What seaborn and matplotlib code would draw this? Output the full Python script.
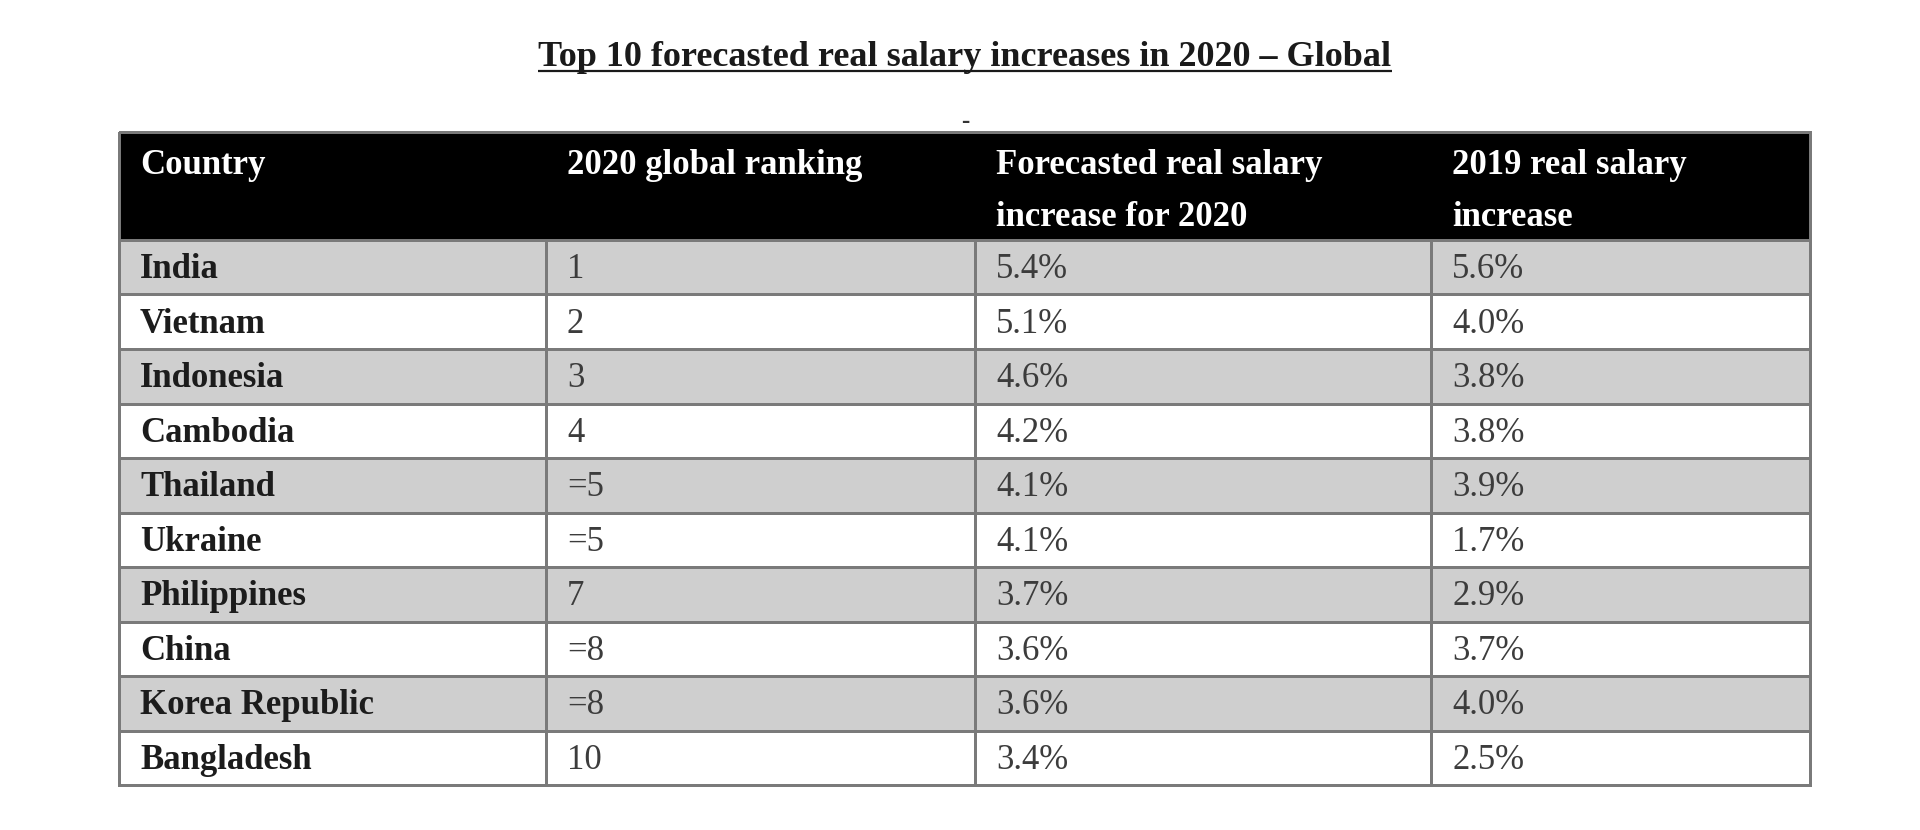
import numpy as np
import matplotlib
matplotlib.use("Agg")
import matplotlib.pyplot as plt
from matplotlib.colors import ListedColormap
import seaborn as sns

# ---- data ----
title = "Top 10 forecasted real salary increases in 2020 \u2013 Global"
headers = ["Country", "2020 global ranking",
           "Forecasted real salary\nincrease for 2020", "2019 real salary\nincrease"]
countries = ["India", "Vietnam", "Indonesia", "Cambodia", "Thailand", "Ukraine",
             "Philippines", "China", "Korea Republic", "Bangladesh"]
rankings = ["1", "2", "3", "4", "=5", "=5", "7", "=8", "=8", "10"]
forecast_2020 = [5.4, 5.1, 4.6, 4.2, 4.1, 4.1, 3.7, 3.6, 3.6, 3.4]
real_2019 = [5.6, 4.0, 3.8, 3.8, 3.9, 1.7, 2.9, 3.7, 4.0, 2.5]

# ---- style ----
sns.set_theme(style="white")
plt.rcParams["font.family"] = ["Liberation Serif", "DejaVu Serif"]

W, H = 1920, 830
fig = plt.figure(figsize=(W / 100, H / 100), dpi=100)
ax = fig.add_axes([0, 0, 1, 1])
ax.set_xlim(0, W)
ax.set_ylim(H, 0)
ax.set_axis_off()

col_edges = np.array([119, 546, 975, 1431, 1810])
header_top, header_bot, table_bot = 132, 240, 785
n = len(countries)
row_edges = np.linspace(header_bot, table_bot, n + 1)

grid_col = "#7a7a7a"
stripe = ListedColormap(["#ffffff", "#cfcfcf"])

# body cells (alternating grey / white stripes)
C = np.array([[(i + 1) % 2] * (len(col_edges) - 1) for i in range(n)])
ax.pcolormesh(col_edges, row_edges, C, cmap=stripe, vmin=0, vmax=1,
              edgecolors=grid_col, linewidth=2.0)

# header band
ax.pcolormesh([col_edges[0], col_edges[-1]], [header_top, header_bot],
              np.array([[0]]), cmap=ListedColormap(["#000000"]),
              edgecolors=grid_col, linewidth=2.0)

fs = 25
pad = 21

# header texts (one text per line)
for j, h in enumerate(headers):
    for k, line in enumerate(h.split("\n")):
        ax.text(col_edges[j] + pad, 174 + 52 * k, line, color="white",
                fontsize=fs, fontweight="bold", va="baseline", ha="left")

# body texts
for i in range(n):
    yb = row_edges[i] + 38
    ax.text(col_edges[0] + pad, yb, countries[i], color="#1c1c1c",
            fontsize=fs, fontweight="bold", va="baseline")
    ax.text(col_edges[1] + pad, yb, rankings[i], color="#3c3c3c",
            fontsize=fs, va="baseline")
    ax.text(col_edges[2] + pad, yb, f"{forecast_2020[i]:.1f}%", color="#3c3c3c",
            fontsize=fs, va="baseline")
    ax.text(col_edges[3] + pad, yb, f"{real_2019[i]:.1f}%", color="#3c3c3c",
            fontsize=fs, va="baseline")

# title with underline
t = ax.text(965, 66, title, color="#1a1a1a", fontsize=26, fontweight="bold",
            ha="center", va="baseline")
fig.canvas.draw()
bb = t.get_window_extent(renderer=fig.canvas.get_renderer())
inv = ax.transData.inverted()
(x0, _), (x1, _) = inv.transform([(bb.x0, 0), (bb.x1, 0)])
ax.plot([x0, x1], [71, 71], color="#1a1a1a", lw=1.6, solid_capstyle="butt")

# small dash above table
ax.text(965, 128, "-", color="#333333", fontsize=18, fontweight="bold",
        ha="center", va="baseline")

fig.savefig("out.png", dpi=100, facecolor="white")
